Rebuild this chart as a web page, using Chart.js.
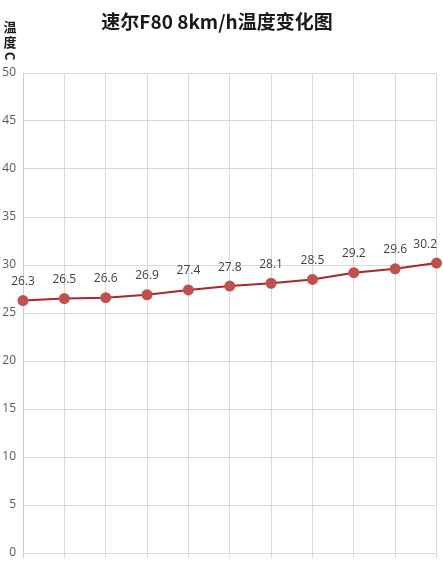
<!DOCTYPE html>
<html>
<head>
<meta charset="utf-8">
<script src="https://cdn.jsdelivr.net/npm/chart.js@4"></script>
<style>
  html, body { margin: 0; padding: 0; background: #fff; }
  #wrap { width: 443px; height: 569px; position: relative; }
</style>
</head>
<body>
<div id="wrap"><canvas id="chart"></canvas></div>
<script>
// Chart data
const categories = ['', '', '', '', '', '', '', '', '', '', ''];
const temps = [26.3, 26.5, 26.6, 26.9, 27.4, 27.8, 28.1, 28.5, 29.2, 29.6, 30.2];
const yTicks = [0, 5, 10, 15, 20, 25, 30, 35, 40, 45, 50];

const titleText = '速尔F80 8km/h温度变化图';
const cjkFont = '"Noto Sans CJK SC", "Noto Sans", sans-serif';

// Dotted left axis line, drawn under the data
const axisPlugin = {
  id: 'axisLine',
  beforeDatasetsDraw(chart) {
    const ctx = chart.ctx;
    const a = chart.chartArea;
    ctx.save();
    ctx.strokeStyle = '#bfbfbf';
    ctx.lineWidth = 1;
    ctx.setLineDash([1, 1]);
    ctx.beginPath();
    ctx.moveTo(Math.round(a.left) + 0.5, a.top);
    ctx.lineTo(Math.round(a.left) + 0.5, a.bottom + 5);
    ctx.stroke();
    ctx.restore();
  }
};

// Draw title, y-axis title and value labels
const decorPlugin = {
  id: 'decor',
  afterDatasetsDraw(chart) {
    const ctx = chart.ctx;
    ctx.save();

    // title
    ctx.fillStyle = '#1a1a1a';
    ctx.font = 'bold 19px ' + cjkFont;
    ctx.textAlign = 'center';
    ctx.textBaseline = 'middle';
    ctx.fillText(titleText, 217, 22);

    // vertical y-axis title
    ctx.font = 'bold 13px ' + cjkFont;
    ctx.fillText('温', 10, 27);
    ctx.fillText('度', 10, 42);
    ctx.save();
    ctx.translate(10, 56);
    ctx.rotate(Math.PI / 2);
    ctx.fillText('C', 0, 0);
    ctx.restore();

    // value labels
    ctx.font = '12px "Open Sans", "DejaVu Sans", sans-serif';
    ctx.fillStyle = '#404040';
    const meta = chart.getDatasetMeta(0);
    meta.data.forEach((pt, i) => {
      const txt = temps[i].toFixed(1);
      const w = ctx.measureText(txt).width;
      let x = pt.x;
      if (x + w / 2 > chart.width - 6) x = chart.width - 6 - w / 2;
      ctx.fillText(txt, x, pt.y - 19);
    });
    ctx.restore();
  }
};

new Chart(document.getElementById('chart'), {
  type: 'line',
  data: {
    labels: categories,
    datasets: [{
      data: temps,
      borderColor: '#b0232a',
      borderWidth: 2,
      backgroundColor: '#c0504d',
      pointBackgroundColor: '#c0504d',
      pointBorderColor: '#c0504d',
      pointRadius: 4.5,
      tension: 0
    }]
  },
  options: {
    responsive: true,
    maintainAspectRatio: false,
    animation: false,
    layout: { padding: { top: 73, right: 6, left: 0, bottom: 0 } },
    plugins: {
      legend: { display: false },
      title: { display: false },
      tooltip: { enabled: false }
    },
    scales: {
      x: {
        offset: false,
        grid: { color: '#d9d9d9', tickLength: 5 },
        border: { display: false },
        ticks: { display: true, font: { size: 1 } },
        afterFit(scale) { scale.height = 16; }
      },
      y: {
        min: 0,
        max: 50,
        afterBuildTicks(scale) { scale.ticks = yTicks.map(v => ({ value: v })); },
        grid: { color: '#d9d9d9', drawTicks: false },
        border: { display: false },
        ticks: {
          color: '#595959',
          padding: 7,
          font: { size: 12, family: '"Open Sans", "DejaVu Sans", sans-serif' }
        },
        afterFit(scale) { scale.width = 23; }
      }
    }
  },
  plugins: [axisPlugin, decorPlugin]
});
</script>
</body>
</html>
